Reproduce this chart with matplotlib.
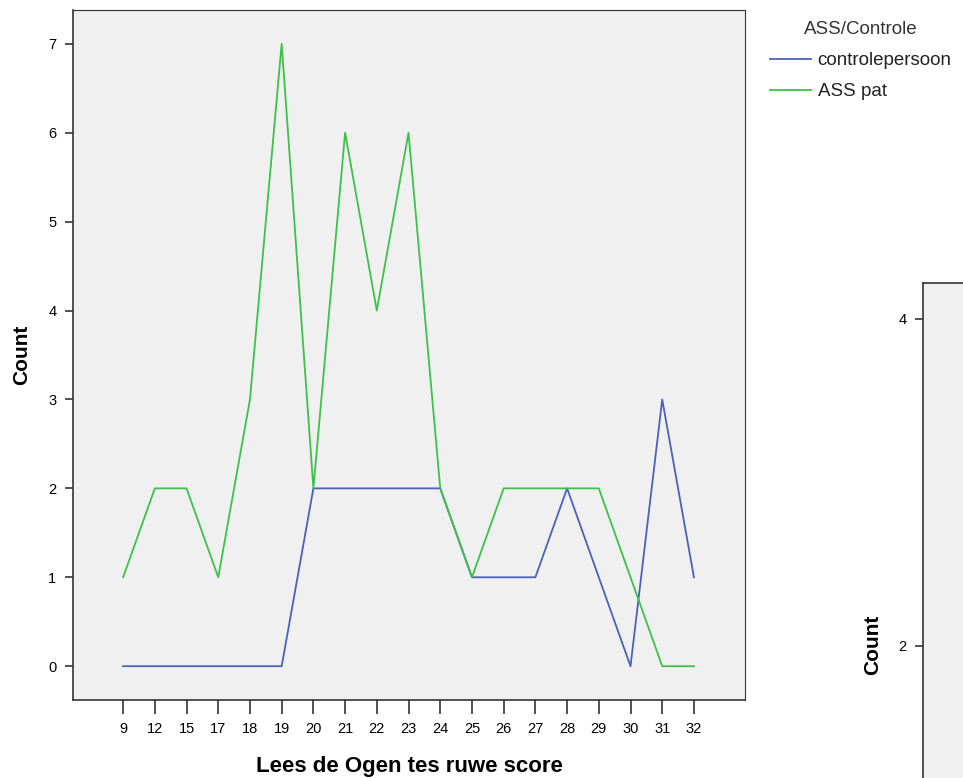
import matplotlib.pyplot as plt

plt.rcParams['font.family'] = ['Liberation Sans', 'DejaVu Sans']

# ===================== data =====================
scores = ['9', '12', '15', '17', '18', '19', '20', '21', '22', '23',
          '24', '25', '26', '27', '28', '29', '30', '31', '32']
controle = [0, 0, 0, 0, 0, 0, 2, 2, 2, 2, 2, 1, 1, 1, 2, 1, 0, 3, 1]
ass_pat = [1, 2, 2, 1, 3, 7, 2, 6, 4, 6, 2, 1, 2, 2, 2, 2, 1, 0, 0]
y_ticks = [0, 1, 2, 3, 4, 5, 6, 7]
y_ticks_right = [2, 4]

BG = '#f0f0f0'
BLUE = '#4a62b8'
GREEN = '#3cc24a'
W, H = 963, 778

fig = plt.figure(figsize=(W / 100, H / 100), dpi=100)
fig.patch.set_facecolor('white')

# ===================== main chart =====================
ax = fig.add_axes([73 / W, 1 - 700 / H, (745 - 73) / W, (700 - 10) / H])
ax.set_facecolor(BG)
x = list(range(len(scores)))
ax.plot(x, controle, color=BLUE, lw=1.3, label='controlepersoon')
ax.plot(x, ass_pat, color=GREEN, lw=1.3, label='ASS pat')

ax.set_xlim(-1.58, len(scores) - 1 + 1.61)
ax.set_ylim(-0.38, 7.38)
ax.set_xticks(x)
ax.set_xticklabels(scores, fontsize=10.5)
ax.set_yticks(y_ticks)
ax.set_yticklabels([str(v) for v in y_ticks], fontsize=10.5)
ax.tick_params(axis='x', length=10, width=1.2, pad=6, color='#333333')
ax.tick_params(axis='y', length=6, width=1.2, pad=6, color='#333333')
for s in ax.spines.values():
    s.set_color('#333333')
    s.set_linewidth(1.2)
ax.spines['top'].set_linewidth(0.8)
ax.spines['right'].set_linewidth(0.8)

ax.set_xlabel('Lees de Ogen tes ruwe score', fontsize=16, fontweight='bold', labelpad=14)
ax.set_ylabel('Count', fontsize=15, fontweight='bold', labelpad=12)

leg = ax.legend(loc='upper left', bbox_to_anchor=(753 / W, 1 - 4 / H),
                bbox_transform=fig.transFigure, frameon=False,
                title='ASS/Controle', fontsize=13.5, title_fontsize=13.5,
                handlelength=2.2, handletextpad=0.35, labelspacing=0.75)
leg.get_title().set_color('#333333')
for t in leg.get_texts():
    t.set_color('#222222')

# ===================== second chart (cut off) =====================
ax2 = fig.add_axes([923 / W, -0.1, 0.5, 1 - 283 / H + 0.1])
ax2.set_facecolor(BG)
ax2.set_ylim(2 - (778 + 78 - 646) / 163.5, 4 + 36 / 163.5)
ax2.set_xlim(0, 1)
ax2.set_xticks([])
ax2.set_yticks(y_ticks_right)
ax2.set_yticklabels([str(v) for v in y_ticks_right], fontsize=10.5)
ax2.tick_params(axis='y', length=6, width=1.2, pad=6, color='#333333')
for s in ax2.spines.values():
    s.set_color('#333333')
    s.set_linewidth(1.2)
ax2.set_ylabel('Count', fontsize=15, fontweight='bold')
ax2.yaxis.set_label_coords(-0.085, (1 - 645 / H + 0.1) / (1 - 283 / H + 0.1))

fig.savefig('out.png', dpi=100)
